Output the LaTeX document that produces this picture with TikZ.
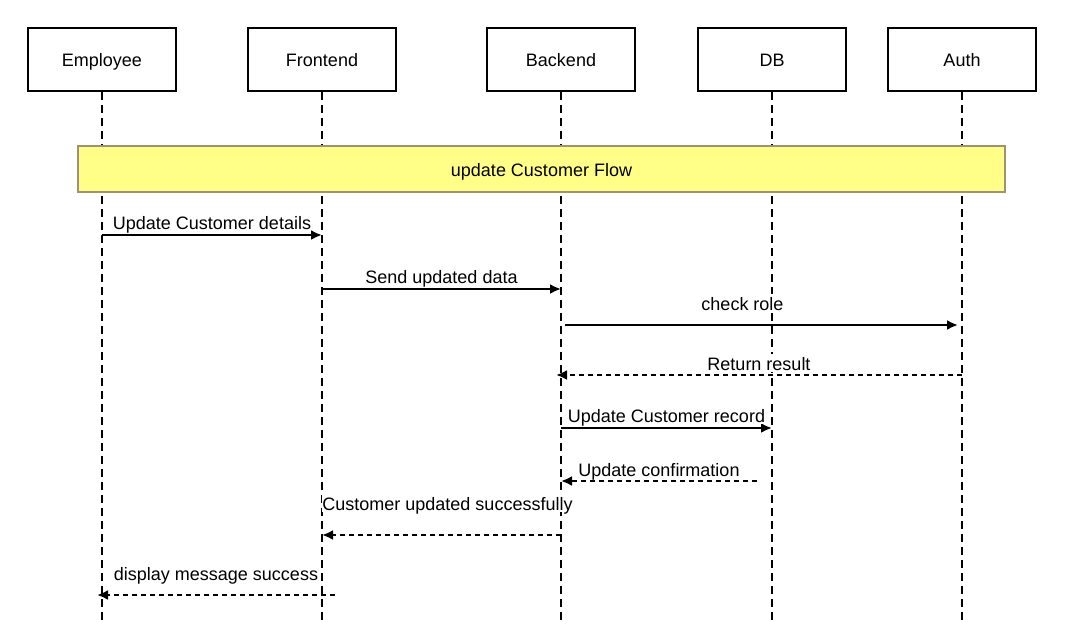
\documentclass[tikz,border=0pt]{standalone}
\usepackage{fontspec}
\setmainfont{Liberation Sans}
\usetikzlibrary{shapes,arrows,arrows.meta}
\definecolor{flowfill}{HTML}{FFFF88}
\definecolor{flowline}{HTML}{9E9272}
\tikzstyle{txt} = [font=\fontsize{18}{21}\selectfont, text height=16pt, text depth=2pt]
\tikzstyle{actor} = [draw, txt, line width=2.2pt, minimum width=148pt, minimum height=63pt]
\tikzstyle{life} = [draw, line width=2.2pt, dash pattern=on 8pt off 5pt]
\tikzstyle{frame} = [draw=flowline, fill=flowfill, txt, line width=2pt, minimum width=927pt, minimum height=46pt]
\tikzstyle{msg} = [-{Latex[length=11pt,width=10pt]}, line width=2.2pt]
\tikzstyle{reply} = [msg, dash pattern=on 5pt off 4pt]
\tikzstyle{lbl} = [txt, inner sep=0pt, fill=white]

\begin{document}
\begin{tikzpicture}[x=1pt,y=-1pt]
\useasboundingbox (0,0) rectangle (1071,624);

\node[actor] (emp) at (102,59.5) {Employee};
\node[actor] (front) [right of = emp, node distance=220pt] {Frontend};
\node[actor] (back) [right of = front, node distance=239pt] {Backend};
\node[actor] (db) [right of = back, node distance=211pt] {DB};
\node[actor] (auth) [right of = db, node distance=190pt] {Auth};

% lifelines
\foreach \a in {emp,front,back,db,auth}
  \draw[life] (\a.south) -- (\a.south |- 0,626);

\node[frame] (flow) at (541.5,169) {update Customer Flow};

% messages
\draw[msg] (emp |- 0,235) -- node[lbl, yshift=13pt] {Update Customer details} (front |- 0,235);
\draw[msg] (front |- 0,289) -- node[lbl, yshift=13pt] {Send updated data} (back |- 0,289);
\draw[msg] ([xshift=4pt]back |- 0,325) -- node[lbl, yshift=22pt, xshift=-19pt] {check role} ([xshift=-4pt]auth |- 0,325);
\draw[reply] (auth |- 0,375) -- node[lbl, yshift=12pt] {Return result} ([xshift=-5pt]back |- 0,375);
\draw[msg] (back |- 0,428) -- node[lbl, yshift=13pt] {Update Customer record} (db |- 0,428);
\draw[reply] ([xshift=-15pt]db |- 0,481) -- node[lbl, yshift=12pt] {Update confirmation} (back |- 0,481);
\draw[reply] (back |- 0,535) -- node[lbl, yshift=32pt, xshift=6pt] {Customer updated successfully} (front |- 0,535);
\draw[reply] ([xshift=13pt]front |- 0,595) -- node[lbl, yshift=22pt] {display message success} ([xshift=-5pt]emp |- 0,595);

\end{tikzpicture}
\end{document}
